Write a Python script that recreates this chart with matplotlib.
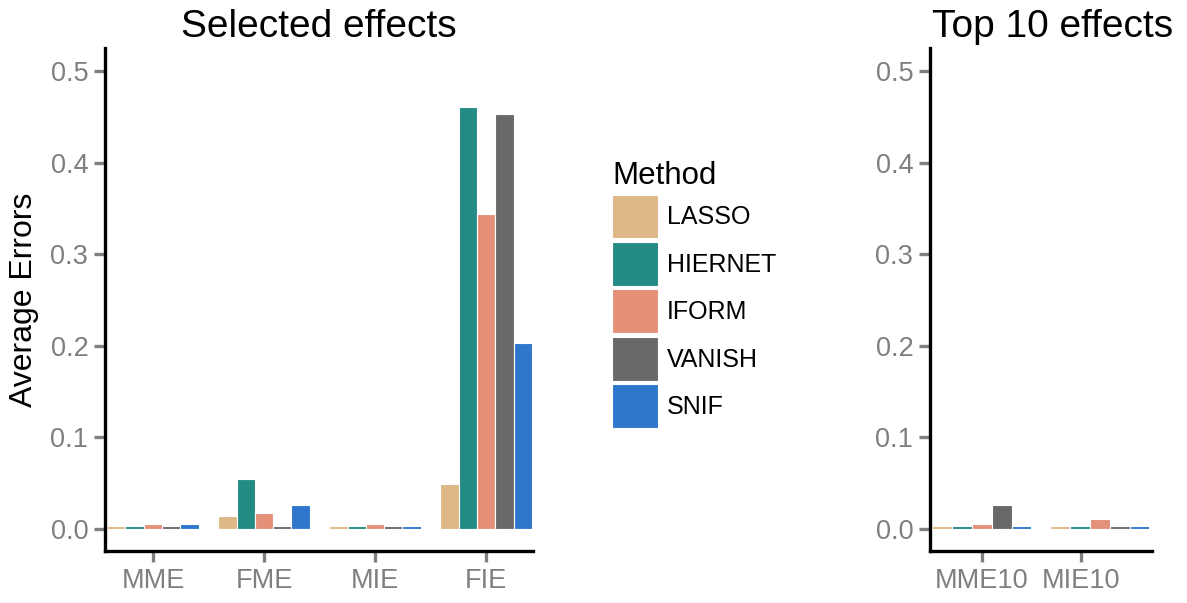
import matplotlib
matplotlib.use("Agg")
import matplotlib.pyplot as plt
from matplotlib.patches import Patch
import numpy as np

plt.rcParams['font.family'] = ['Liberation Sans', 'DejaVu Sans']

methods = ["LASSO", "HIERNET", "IFORM", "VANISH", "SNIF"]
colors = ["#DEB887", "#238B84", "#E5917A", "#696969", "#2F77CD"]

# Selected effects panel
sel_categories = ["MME", "FME", "MIE", "FIE"]
sel_lasso   = [0.003, 0.014, 0.003, 0.049]
sel_hiernet = [0.003, 0.055, 0.003, 0.461]
sel_iform   = [0.005, 0.018, 0.005, 0.344]
sel_vanish  = [0.003, 0.003, 0.003, 0.453]
sel_snif    = [0.005, 0.026, 0.003, 0.203]

# Top 10 effects panel
top_categories = ["MME10", "MIE10"]
top_lasso   = [0.003, 0.003]
top_hiernet = [0.003, 0.003]
top_iform   = [0.005, 0.011]
top_vanish  = [0.026, 0.003]
top_snif    = [0.003, 0.003]

yticks = [0.0, 0.1, 0.2, 0.3, 0.4, 0.5]

W, H = 1187, 603
fig = plt.figure(figsize=(W / 100, H / 100), dpi=100)

def fx(px):
    return px / W

def fy(py):
    return 1 - py / H

ax1 = fig.add_axes([fx(105), fy(551), fx(533) - fx(105), fy(48) - fy(551)])
ax2 = fig.add_axes([fx(930), fy(551), fx(1152) - fx(930), fy(48) - fy(551)])

tick_gray = "#7F7F7F"

def style(ax):
    for s in ["top", "right"]:
        ax.spines[s].set_visible(False)
    for s in ["left", "bottom"]:
        ax.spines[s].set_linewidth(2.4)
        ax.spines[s].set_color("black")
        ax.spines[s].set_capstyle("projecting")
    ax.set_ylim(-0.024, 0.525)
    ax.set_yticks(yticks)
    ax.set_yticklabels([f"{v:.1f}" for v in yticks])
    ax.tick_params(axis="both", colors=tick_gray, width=2.4, length=8,
                   labelsize=19.5, labelcolor=tick_gray, pad=4)
    ax.set_facecolor("none")

# left panel
sel_series = [sel_lasso, sel_hiernet, sel_iform, sel_vanish, sel_snif]
x1 = np.arange(len(sel_categories))
bw1 = 0.165
for i, (vals, c) in enumerate(zip(sel_series, colors)):
    ax1.bar(x1 + (i - 2) * bw1, vals, width=bw1, color=c,
            edgecolor="white", linewidth=0.8)
style(ax1)
ax1.set_xlim(-0.432, 3.423)
ax1.set_xticks(x1)
ax1.set_xticklabels(sel_categories)
ax1.set_ylabel("Average Errors", fontsize=23, color="black", labelpad=8)
ax1.set_title("Selected effects", fontsize=28, color="black", pad=8)

# right panel
top_series = [top_lasso, top_hiernet, top_iform, top_vanish, top_snif]
group_x = np.array([0.0, 1.19])
bw2 = 0.2
for i, (vals, c) in enumerate(zip(top_series, colors)):
    ax2.bar(group_x + (i - 2) * bw2, vals, width=bw2, color=c,
            edgecolor="white", linewidth=0.8)
style(ax2)
ax2.set_xlim(-0.525, 1.717)
ax2.set_xticks([0, 1])
ax2.set_xticklabels(top_categories)
ax2.set_title("Top 10 effects", fontsize=28, color="black", pad=8, x=0.554)

# legend
handles = [Patch(facecolor=c, edgecolor="white", linewidth=0.8) for c in colors]
leg = fig.legend(handles, methods, title="Method", loc="upper left",
                 bbox_to_anchor=(fx(612), fy(161)), frameon=False,
                 fontsize=18, title_fontsize=22.5, handlelength=1.84,
                 handleheight=2.33, labelspacing=0.14, handletextpad=0.35,
                 borderpad=0, borderaxespad=0, alignment="left")

fig.savefig("out.png", dpi=100, facecolor="white")
